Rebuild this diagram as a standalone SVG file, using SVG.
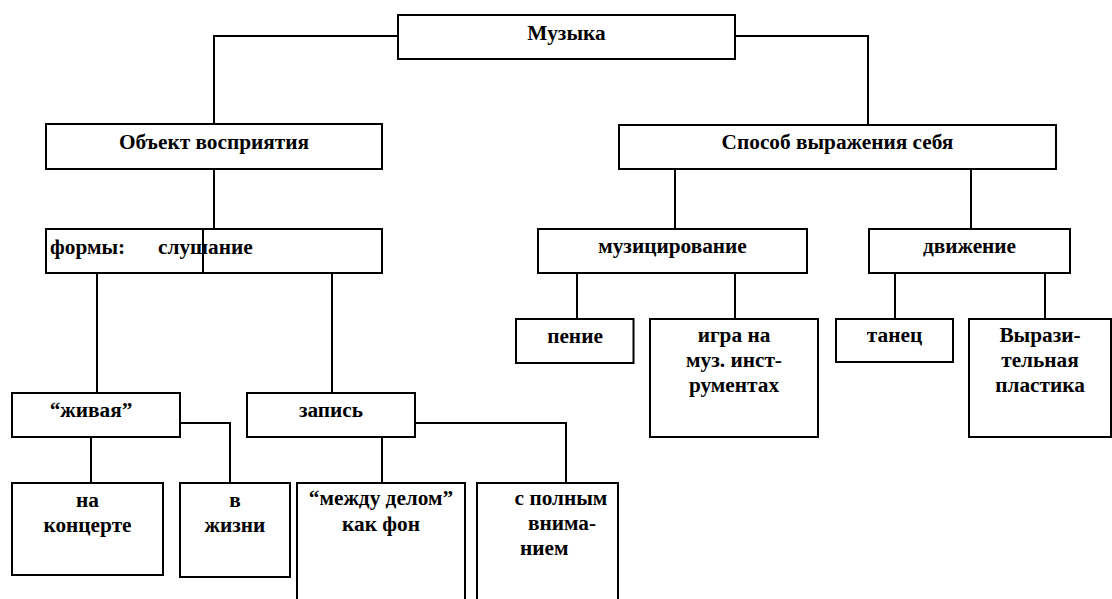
<svg xmlns="http://www.w3.org/2000/svg" width="1112" height="599" viewBox="0 0 1112 599">
<style>
.box{fill:#fff;stroke:#000;stroke-width:2}
.ln{fill:none;stroke:#000;stroke-width:2}
text{font-family:"Liberation Serif","Times New Roman",serif;font-weight:bold;font-size:21.3px;fill:#000}
.c{text-anchor:middle}
</style>
<rect width="1112" height="599" fill="#fff"/>
<g id="connectors">
<path class="ln" d="M398,36 H214 V124"/>
<path class="ln" d="M735,36 H868 V125"/>
<path class="ln" d="M214,169 V229"/>
<path class="ln" d="M97,273 V393"/>
<path class="ln" d="M332,273 V393"/>
<path class="ln" d="M91,437 V483"/>
<path class="ln" d="M180,423 H230 V483"/>
<path class="ln" d="M382,437 V483"/>
<path class="ln" d="M415,423 H566 V483"/>
<path class="ln" d="M675,169 V229"/>
<path class="ln" d="M971,169 V229"/>
<path class="ln" d="M577,273 V319"/>
<path class="ln" d="M735,273 V319"/>
<path class="ln" d="M895,273 V319"/>
<path class="ln" d="M1045,273 V319"/>
</g>
<g id="muzyka">
<rect class="box" x="398" y="15" width="337" height="44"/>
<text class="c" x="566.5" y="40">Музыка</text>
</g>
<g id="obekt">
<rect class="box" x="46" y="124" width="336" height="45"/>
<text class="c" x="214" y="149">Объект восприятия</text>
</g>
<g id="sposob">
<rect class="box" x="619" y="125" width="437" height="44"/>
<text class="c" x="837.5" y="149">Способ выражения себя</text>
</g>
<g id="formy">
<rect class="box" x="46" y="229" width="336" height="44"/>
<path class="ln" d="M203,229 V273"/>
<text x="50" y="254">формы:</text>
<text x="158" y="254">слушание</text>
</g>
<g id="muzicirovanie">
<rect class="box" x="538" y="229" width="269" height="44"/>
<text class="c" x="672.5" y="253">музицирование</text>
</g>
<g id="dvizhenie">
<rect class="box" x="869" y="229" width="201" height="44"/>
<text class="c" x="969.5" y="253">движение</text>
</g>
<g id="penie">
<rect class="box" x="516" y="319" width="117.5" height="44"/>
<text class="c" x="575" y="343">пение</text>
</g>
<g id="igra">
<rect class="box" x="650" y="319" width="168" height="118"/>
<text class="c" x="734" y="342">игра на</text>
<text class="c" x="734" y="367">муз. инст-</text>
<text class="c" x="734" y="392">рументах</text>
</g>
<g id="tanec">
<rect class="box" x="836" y="319" width="117" height="43"/>
<text class="c" x="894.5" y="342">танец</text>
</g>
<g id="plastika">
<rect class="box" x="969" y="319" width="142" height="118"/>
<text class="c" x="1040" y="342">Вырази-</text>
<text class="c" x="1040" y="367">тельная</text>
<text class="c" x="1040" y="392">пластика</text>
</g>
<g id="zhivaya">
<rect class="box" x="12" y="393" width="168" height="44"/>
<text class="c" x="91" y="417">“живая”</text>
</g>
<g id="zapis">
<rect class="box" x="247" y="393" width="168" height="44"/>
<text class="c" x="331" y="417">запись</text>
</g>
<g id="na-koncerte">
<rect class="box" x="12" y="483" width="151" height="92"/>
<text class="c" x="87.5" y="507">на</text>
<text class="c" x="87.5" y="532">концерте</text>
</g>
<g id="v-zhizni">
<rect class="box" x="180" y="483" width="110" height="94"/>
<text class="c" x="235" y="507">в</text>
<text class="c" x="235" y="532">жизни</text>
</g>
<g id="mezhdu">
<rect class="box" x="297" y="483" width="168" height="130"/>
<text class="c" x="381" y="505">“между делом”</text>
<text class="c" x="381" y="531">как фон</text>
</g>
<g id="s-polnym">
<rect class="box" x="477" y="483" width="141" height="130"/>
<text class="c" x="561" y="505">с полным</text>
<text class="c" x="562" y="530">внима-</text>
<text x="520" y="555">нием</text>
</g>
</svg>
